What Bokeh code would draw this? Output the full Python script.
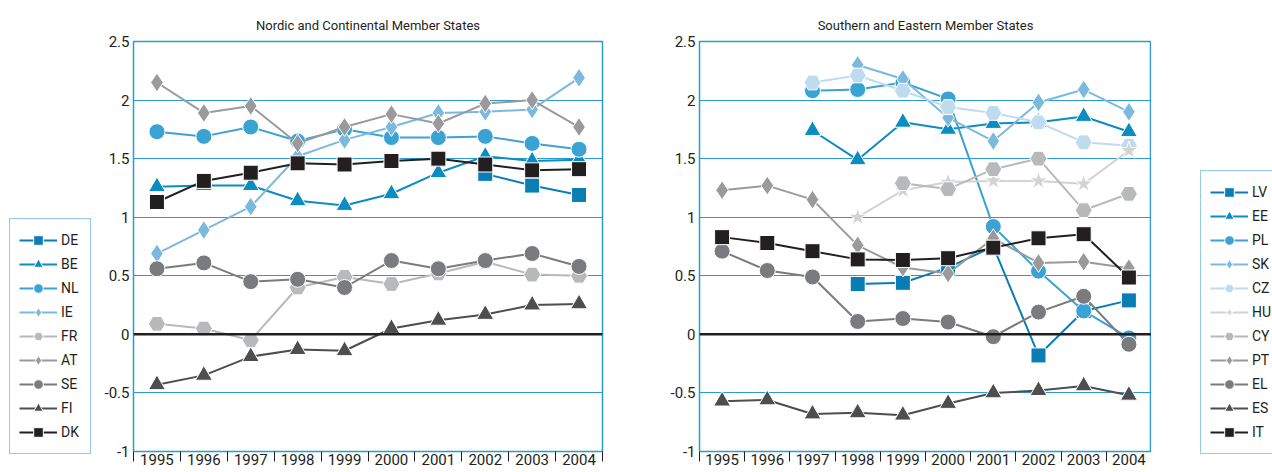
from bokeh.plotting import figure
from bokeh.layouts import row
from bokeh.models import (FixedTicker, CustomJSTickFormatter, Span, Legend,
                          LegendItem, Range1d)
from bokeh.embed import file_html
from bokeh.resources import INLINE

nan = float("nan")
years = [1995, 1996, 1997, 1998, 1999, 2000, 2001, 2002, 2003, 2004]
y_ticks = [-1, -0.5, 0, 0.5, 1, 1.5, 2, 2.5]

# Nordic and Continental Member States
DE = [nan, nan, nan, nan, nan, nan, nan, 1.37, 1.27, 1.19]
BE = [1.26, 1.27, 1.27, 1.14, 1.10, 1.20, 1.38, 1.52, 1.48, 1.49]
NL = [1.73, 1.69, 1.77, 1.65, 1.75, 1.68, 1.68, 1.69, 1.63, 1.58]
IE = [0.69, 0.89, 1.09, 1.52, 1.66, 1.77, 1.89, 1.90, 1.92, 2.19]
FR = [0.09, 0.05, -0.05, 0.40, 0.49, 0.43, 0.52, 0.62, 0.51, 0.50]
AT = [2.15, 1.89, 1.95, 1.63, 1.77, 1.88, 1.80, 1.97, 2.00, 1.77]
SE = [0.56, 0.61, 0.45, 0.47, 0.40, 0.63, 0.56, 0.63, 0.69, 0.58]
FI = [-0.43, -0.35, -0.19, -0.13, -0.14, 0.05, 0.12, 0.17, 0.25, 0.26]
DK = [1.13, 1.31, 1.38, 1.46, 1.45, 1.48, 1.50, 1.45, 1.40, 1.41]

# Southern and Eastern Member States
LV = [nan, nan, nan, 0.43, 0.44, 0.57, 0.75, -0.18, 0.20, 0.29]
EE = [nan, nan, 1.74, 1.49, 1.81, 1.75, 1.80, 1.81, 1.86, 1.73]
PL = [nan, nan, 2.08, 2.09, 2.15, 2.01, 0.92, 0.54, 0.20, -0.03]
SK = [nan, nan, nan, 2.30, 2.18, 1.85, 1.65, 1.98, 2.09, 1.90]
CZ = [nan, nan, 2.15, 2.21, 2.08, 1.94, 1.89, 1.81, 1.64, 1.61]
HU = [nan, nan, nan, 1.00, 1.23, 1.30, 1.31, 1.31, 1.285, 1.57]
CY = [nan, nan, nan, nan, 1.29, 1.24, 1.41, 1.50, 1.06, 1.20]
PT = [1.23, 1.27, 1.15, 0.76, 0.57, 0.52, 0.82, 0.61, 0.62, 0.565]
EL = [0.71, 0.545, 0.49, 0.11, 0.135, 0.105, -0.02, 0.19, 0.325, -0.085]
ES = [-0.57, -0.56, -0.68, -0.67, -0.69, -0.59, -0.50, -0.48, -0.44, -0.52]
IT = [0.83, 0.78, 0.71, 0.64, 0.635, 0.65, 0.74, 0.82, 0.855, 0.485]

left_series = [("DE", DE), ("BE", BE), ("NL", NL), ("IE", IE), ("FR", FR),
               ("AT", AT), ("SE", SE), ("FI", FI), ("DK", DK)]
right_series = [("LV", LV), ("EE", EE), ("PL", PL), ("SK", SK), ("CZ", CZ),
                ("HU", HU), ("CY", CY), ("PT", PT), ("EL", EL), ("ES", ES),
                ("IT", IT)]

C_DE = "#0a7db4"
C_BE = "#0b8cc3"
C_NL = "#3ba3d3"
C_IE = "#7cb9de"
C_CZ = "#bfdbef"
C_FR = "#b8b9bb"
C_HU = "#d3d3d4"
C_AT = "#9a9a9c"
C_SE = "#7a7b7e"
C_FI = "#4e4e50"
C_DK = "#231f20"
BLUE = "#2a9ad0"
TXT = "#231f20"
FONT = "Roboto"

style = {
    "DE": (C_DE, "square", 15), "BE": (C_BE, "triangle", 17),
    "NL": (C_NL, "circle", 16), "IE": (C_IE, "diamond", 19),
    "FR": (C_FR, "hex", 17), "AT": (C_AT, "diamond", 19),
    "SE": (C_SE, "circle", 16), "FI": (C_FI, "triangle", 17),
    "DK": (C_DK, "square", 15),
    "LV": (C_DE, "square", 15), "EE": (C_BE, "triangle", 17),
    "PL": (C_NL, "circle", 16), "SK": (C_IE, "diamond", 19),
    "CZ": (C_CZ, "hex", 17), "HU": (C_HU, "star", 19),
    "CY": (C_FR, "hex", 17), "PT": (C_AT, "diamond", 19),
    "EL": (C_SE, "circle", 16), "ES": (C_FI, "triangle", 17),
    "IT": (C_DK, "square", 15),
}


def make_panel(title, series, frame_w, border_l, border_r):
    p = figure(frame_width=frame_w, frame_height=410,
               min_border_left=border_l, min_border_right=border_r,
               min_border_top=41, min_border_bottom=0,
               x_range=Range1d(1994.5, 2004.5), y_range=Range1d(-1, 2.5),
               output_backend="svg", toolbar_location=None, title=title)
    p.title.align = "center"
    p.title.text_font = FONT
    p.title.text_font_size = "13px"
    p.title.text_font_style = "normal"
    p.title.text_color = TXT
    p.title.standoff = 17
    p.outline_line_color = BLUE
    p.outline_line_width = 1.5
    p.outline_line_alpha = 1

    p.yaxis.ticker = FixedTicker(ticks=y_ticks)
    p.yaxis.formatter = CustomJSTickFormatter(code="return tick.toString()")
    p.yaxis.major_tick_out = 0
    p.yaxis.major_tick_in = 0
    p.yaxis.minor_tick_out = 0
    p.yaxis.minor_tick_in = 0
    p.yaxis.axis_line_color = BLUE
    p.yaxis.major_label_standoff = 4
    p.yaxis.major_label_text_font = FONT
    p.yaxis.major_label_text_font_size = "15px"
    p.yaxis.major_label_text_color = TXT

    p.xaxis.ticker = FixedTicker(ticks=years,
                                 minor_ticks=[y - 0.5 for y in years] + [2004.5])
    p.xaxis.formatter = CustomJSTickFormatter(code="return tick.toFixed(0)")
    p.xaxis.major_tick_out = 0
    p.xaxis.major_tick_in = 0
    p.xaxis.minor_tick_out = 10
    p.xaxis.minor_tick_in = 0
    p.xaxis.minor_tick_line_color = TXT
    p.xaxis.axis_line_color = BLUE
    p.xaxis.major_label_standoff = -8
    p.xaxis.major_label_text_font = FONT
    p.xaxis.major_label_text_font_size = "15px"
    p.xaxis.major_label_text_color = TXT

    p.xgrid.visible = False
    p.ygrid.ticker = FixedTicker(ticks=y_ticks)
    p.ygrid.grid_line_color = BLUE
    p.ygrid.grid_line_width = 1

    p.add_layout(Span(location=0, dimension="width", line_color=TXT,
                      line_width=2.5))

    for name, vals in series:
        col, mk, sz = style[name]
        p.line(years, vals, line_color=col, line_width=2)
        p.scatter(years, vals, marker=mk, size=sz, fill_color=col,
                  line_color="white", line_width=1)
    return p


def make_legend_fig(series, width, legend_xy):
    # legend-only figure: same series, drawn out of view (y range far away),
    # so that only the legend shows
    f = figure(width=width, height=470, min_border=0, title=None,
               x_range=Range1d(1994.5, 2004.5), y_range=Range1d(100, 101),
               x_axis_type=None, y_axis_type=None,
               output_backend="svg", toolbar_location=None)
    f.outline_line_color = None
    f.grid.visible = False
    items = []
    for name, vals in series:
        col, mk, sz = style[name]
        lr = f.line(years, vals, line_color=col, line_width=2)
        sr = f.scatter(years, vals, marker=mk, size=sz, fill_color=col,
                       line_color="white", line_width=1)
        items.append(LegendItem(label=name, renderers=[lr, sr]))
    leg = Legend(items=items, location=legend_xy, margin=0, padding=9,
                 spacing=0, glyph_width=38, glyph_height=24, label_height=20,
                 label_standoff=4, label_text_font=FONT,
                 label_text_font_size="14px", label_text_color=TXT,
                 border_line_color=BLUE, border_line_width=1.5,
                 background_fill_color="white", background_fill_alpha=1)
    f.add_layout(leg, "center")
    return f


L1 = make_legend_fig(left_series, 95, (9, 0))
p1 = make_panel("Nordic and Continental Member States", left_series,
                469, 38, 18)
p2 = make_panel("Southern and Eastern Member States", right_series,
                452, 79, 0)
L2 = make_legend_fig(right_series, 121, (49, 0))

layout = row(L1, p1, p2, L2)
open("out.html", "w").write(file_html(layout, INLINE))
